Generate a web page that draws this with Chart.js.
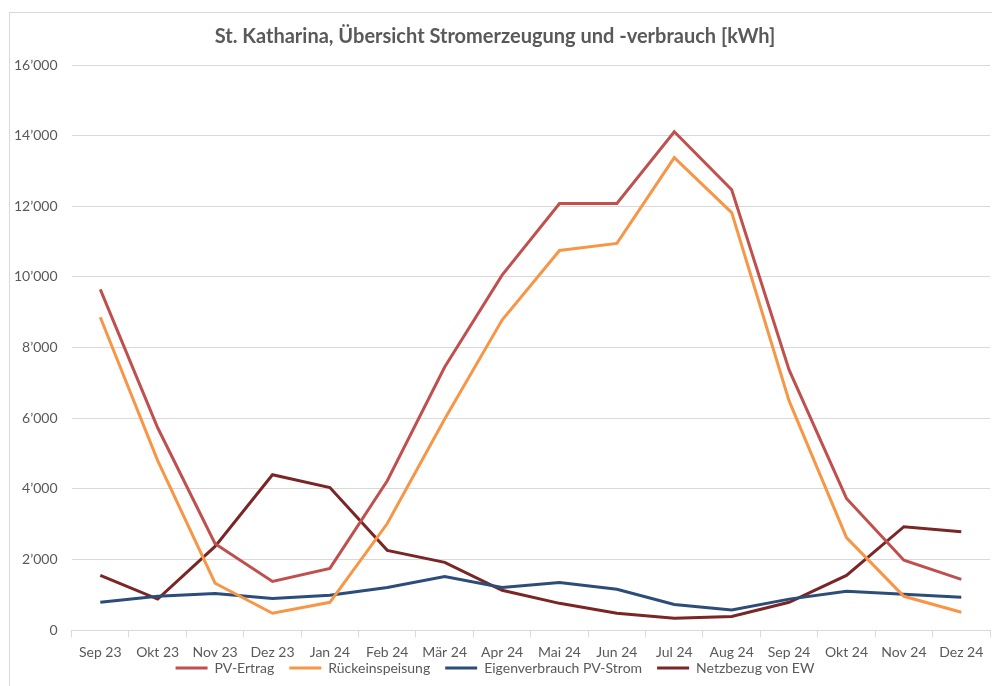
<!DOCTYPE html>
<html lang="de">
<head>
    <meta charset="UTF-8">
    <title>St. Katharina Stromübersicht</title>
    <script src="https://cdn.jsdelivr.net/npm/chart.js"></script>
    <style>
        body { margin: 0; background: #fff; }
        #wrap { position: absolute; left: 0; top: 0; width: 992px; height: 686px; }
        #frame { position: absolute; left: 9px; top: 12px; width: 990px; height: 680px; border: 1px solid #d9d9d9; }
    </style>
</head>
<body>
    <div id="frame"></div>
    <div id="wrap"><canvas id="chart" width="992" height="686"></canvas></div>
    <script>
        const months = ['Sep 23', 'Okt 23', 'Nov 23', 'Dez 23', 'Jan 24', 'Feb 24', 'Mär 24', 'Apr 24',
                        'Mai 24', 'Jun 24', 'Jul 24', 'Aug 24', 'Sep 24', 'Okt 24', 'Nov 24', 'Dez 24'];
        const pvErtrag = [9650, 5730, 2450, 1380, 1750, 4230, 7450, 10050, 12080, 12080, 14110, 12470, 7370, 3730, 1980, 1440];
        const rueckeinspeisung = [8860, 4800, 1330, 480, 790, 3020, 5980, 8780, 10750, 10950, 13380, 11820, 6490, 2620, 960, 510];
        const eigenverbrauch = [790, 960, 1040, 900, 990, 1210, 1520, 1210, 1350, 1160, 730, 570, 880, 1100, 1020, 930];
        const netzbezug = [1550, 880, 2370, 4400, 4040, 2260, 1920, 1130, 760, 480, 340, 390, 790, 1550, 2930, 2790];

        const font = "Lato, 'Open Sans', sans-serif";
        const grey = '#595959';

        function fmt(v) {
            return String(v).replace(/\B(?=(\d{3})+(?!\d))/g, '\u2019');
        }

        function series(label, data, color) {
            return {
                label: label, data: data, borderColor: color, backgroundColor: color,
                borderWidth: 3, pointRadius: 0, tension: 0, fill: false
            };
        }

        // legend sits closer to the axis labels than chart.js would put it
        const liftLegend = {
            id: 'liftLegend',
            afterLayout(chart) {
                chart.legend.top -= 15;
            }
        };

        new Chart(document.getElementById('chart'), {
            type: 'line',
            data: {
                labels: months,
                datasets: [
                    series('PV-Ertrag', pvErtrag, '#c0504d'),
                    series('Rückeinspeisung', rueckeinspeisung, '#f79646'),
                    series('Eigenverbrauch PV-Strom', eigenverbrauch, '#2c4d7a'),
                    series('Netzbezug von EW', netzbezug, '#7a2626')
                ]
            },
            plugins: [liftLegend],
            options: {
                responsive: false,
                animation: false,
                layout: { padding: { left: 0, right: 2, top: 11, bottom: 0 } },
                plugins: {
                    title: {
                        display: true,
                        text: 'St. Katharina, Übersicht Stromerzeugung und -verbrauch [kWh]',
                        color: grey,
                        font: { family: font, size: 20, weight: 'bold' },
                        padding: { top: 14, bottom: 16 }
                    },
                    legend: {
                        position: 'bottom',
                        maxHeight: 25,
                        labels: {
                            usePointStyle: true,
                            pointStyle: 'line',
                            pointStyleWidth: 32,
                            color: grey,
                            font: { family: font, size: 14 },
                            padding: 15
                        }
                    },
                    tooltip: { enabled: false }
                },
                scales: {
                    x: {
                        offset: true,
                        grid: { offset: true, drawOnChartArea: false, tickLength: 7, color: '#d9d9d9' },
                        border: { color: '#d9d9d9' },
                        ticks: { color: grey, font: { family: font, size: 14 }, maxRotation: 0, autoSkip: false, padding: 7 },
                        afterFit: function (scale) { scale.height -= 7; }
                    },
                    y: {
                        min: 0, max: 16000,
                        ticks: { stepSize: 2000, color: grey, font: { family: font, size: 14 }, padding: 14, callback: fmt },
                        grid: { color: '#d9d9d9', drawTicks: false },
                        border: { display: false }
                    }
                }
            }
        });
    </script>
</body>
</html>
